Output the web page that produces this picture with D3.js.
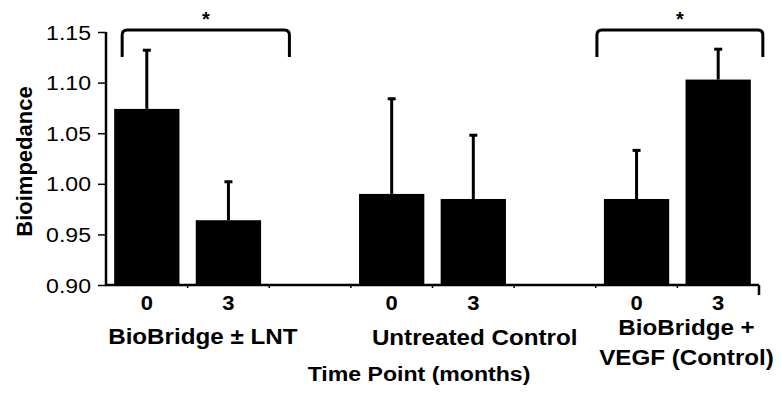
<!DOCTYPE html>
<html>
<head>
<meta charset="utf-8">
<script src="https://cdn.jsdelivr.net/npm/d3@7"></script>
<style>
  html, body { margin: 0; padding: 0; background: #fff; }
  svg { display: block; font-family: "Liberation Sans", Arial, sans-serif; }
</style>
</head>
<body>
<svg id="chart" width="781" height="399"></svg>
<script>
// ---- data ----
const groups = ["BioBridge ± LNT", "Untreated Control", "BioBridge + VEGF (Control)"];
const timePoints = ["0", "3"];
const slots = ["g0-0", "g0-3", "gap1", "g1-0", "g1-3", "gap2", "g2-0", "g2-3"];
const barSlots = ["g0-0", "g0-3", "g1-0", "g1-3", "g2-0", "g2-3"];
const barTimes = ["0", "3", "0", "3", "0", "3"];
const means = [1.074, 0.964, 0.990, 0.985, 0.985, 1.103];
const errors = [0.059, 0.039, 0.095, 0.064, 0.049, 0.031];
const yTicks = [0.90, 0.95, 1.00, 1.05, 1.10, 1.15];
const yTitle = "Bioimpedance";
const xTitle = "Time Point (months)";
const sigLabel = "*";

const svg = d3.select("#chart");
const SX = 1.1; // horizontal stretch of the text as in the reference

const x = d3.scaleBand().domain(slots).range([106, 759]).paddingInner(0.2).paddingOuter(0.1);
const y = d3.scaleLinear().domain([0.90, 1.15]).range([285, 32]);
const bw = x.bandwidth();
const step = x.step();

function stretchedText(g, tx, ty, str, size, weight, anchor, rotate) {
  const t = g.append("g").attr("transform",
    `translate(${tx},${ty})` + (rotate ? ` rotate(${rotate})` : "") + ` scale(${SX},1)`);
  t.append("text").attr("x", 0).attr("y", 0)
    .attr("text-anchor", anchor).attr("font-size", size).attr("font-weight", weight)
    .attr("fill", "#000").text(str);
  return t;
}

// bars
const data = barSlots.map((s, i) => ({ slot: s, t: barTimes[i], m: means[i], e: errors[i] }));
svg.append("g").selectAll("rect").data(data).join("rect")
  .attr("x", d => x(d.slot)).attr("width", bw)
  .attr("y", d => y(d.m)).attr("height", d => y(0.90) - y(d.m))
  .attr("fill", "#000");

// error bars (upper only)
const eb = svg.append("g").attr("stroke", "#000");
eb.selectAll("line.v").data(data).join("line").attr("class", "v")
  .attr("x1", d => x(d.slot) + bw / 2).attr("x2", d => x(d.slot) + bw / 2)
  .attr("y1", d => y(d.m)).attr("y2", d => y(d.m + d.e)).attr("stroke-width", 3);
eb.selectAll("line.c").data(data).join("line").attr("class", "c")
  .attr("x1", d => x(d.slot) + bw / 2 - 4).attr("x2", d => x(d.slot) + bw / 2 + 4)
  .attr("y1", d => y(d.m + d.e) + 1).attr("y2", d => y(d.m + d.e) + 1).attr("stroke-width", 3);

// y axis
const yAxis = d3.axisLeft(y).tickValues(yTicks).tickSize(8).tickFormat(d3.format(".2f"));
const ya = svg.append("g").attr("transform", "translate(106,0)").call(yAxis);
ya.select(".domain").attr("stroke", "#000").attr("stroke-width", 2.5).attr("d", `M0,${y(1.15)}V${y(0.90)}`);
ya.selectAll(".tick line").attr("stroke", "#000").attr("stroke-width", 1.5);
ya.selectAll(".tick text").remove();
yTicks.forEach(v => {
  stretchedText(svg, 91, y(v) + 7.5, d3.format(".2f")(v), 21, "normal", "end");
});

// x axis line
const xa = svg.append("g");
xa.append("line").attr("x1", 105).attr("x2", 759).attr("y1", y(0.90)).attr("y2", y(0.90))
  .attr("stroke", "#000").attr("stroke-width", 2.5);
// separators between slots
slots.slice(1).forEach(s => {
  const sx = x(s) - step * x.paddingInner() / 2;
  xa.append("line").attr("x1", sx).attr("x2", sx).attr("y1", y(0.90)).attr("y2", y(0.90) + 3)
    .attr("stroke", "#000").attr("stroke-width", 1.5);
});
const endX = x(slots[slots.length - 1]) + bw + step * x.paddingInner() / 2;
xa.append("line").attr("x1", endX).attr("x2", endX).attr("y1", y(0.90)).attr("y2", y(0.90) + 10)
  .attr("stroke", "#000").attr("stroke-width", 2.5);

// time point labels
data.forEach(d => {
  stretchedText(svg, x(d.slot) + bw / 2, 310, d.t, 20, "bold", "middle");
});

// group labels
stretchedText(svg, x("g0-3") + 7, 344, groups[0], 22, "bold", "middle");
stretchedText(svg, x("g1-3") + 34, 345, groups[1], 22, "bold", "middle");
stretchedText(svg, x("g2-3") + 1, 335, "BioBridge +", 22, "bold", "middle");
stretchedText(svg, x("g2-3") + 1, 365, "VEGF (Control)", 22, "bold", "middle");

// axis titles
stretchedText(svg, 419, 381, xTitle, 21, "bold", "middle");
const yt = svg.append("g").attr("transform", `translate(32,${(y(0.90) + y(1.15)) / 2 + 3}) rotate(-90)`);
yt.append("text").attr("text-anchor", "middle").attr("font-size", 22).attr("font-weight", "bold").text(yTitle);

// significance brackets
function bracket(x1, x2, yTop, yBot, r) {
  return `M${x1},${yBot} V${yTop + r} Q${x1},${yTop} ${x1 + r},${yTop} H${x2 - r} Q${x2},${yTop} ${x2},${yTop + r} V${yBot}`;
}
const bTop = y(1.15) - 2, bBot = y(1.15) + 25;
const brackets = [
  [x("g0-0") + 8, x("gap1") + 12],
  [x("g2-0") - 7, x("g2-3") + bw + 12]
];
brackets.forEach(([a, b]) => {
  svg.append("path").attr("d", bracket(a, b, bTop, bBot, 5))
    .attr("fill", "none").attr("stroke", "#000").attr("stroke-width", 3);
  svg.append("text").attr("x", (a + b) / 2).attr("y", bTop - 4)
    .attr("text-anchor", "middle").attr("font-size", 20).attr("font-weight", "bold").text(sigLabel);
});
</script>
</body>
</html>
